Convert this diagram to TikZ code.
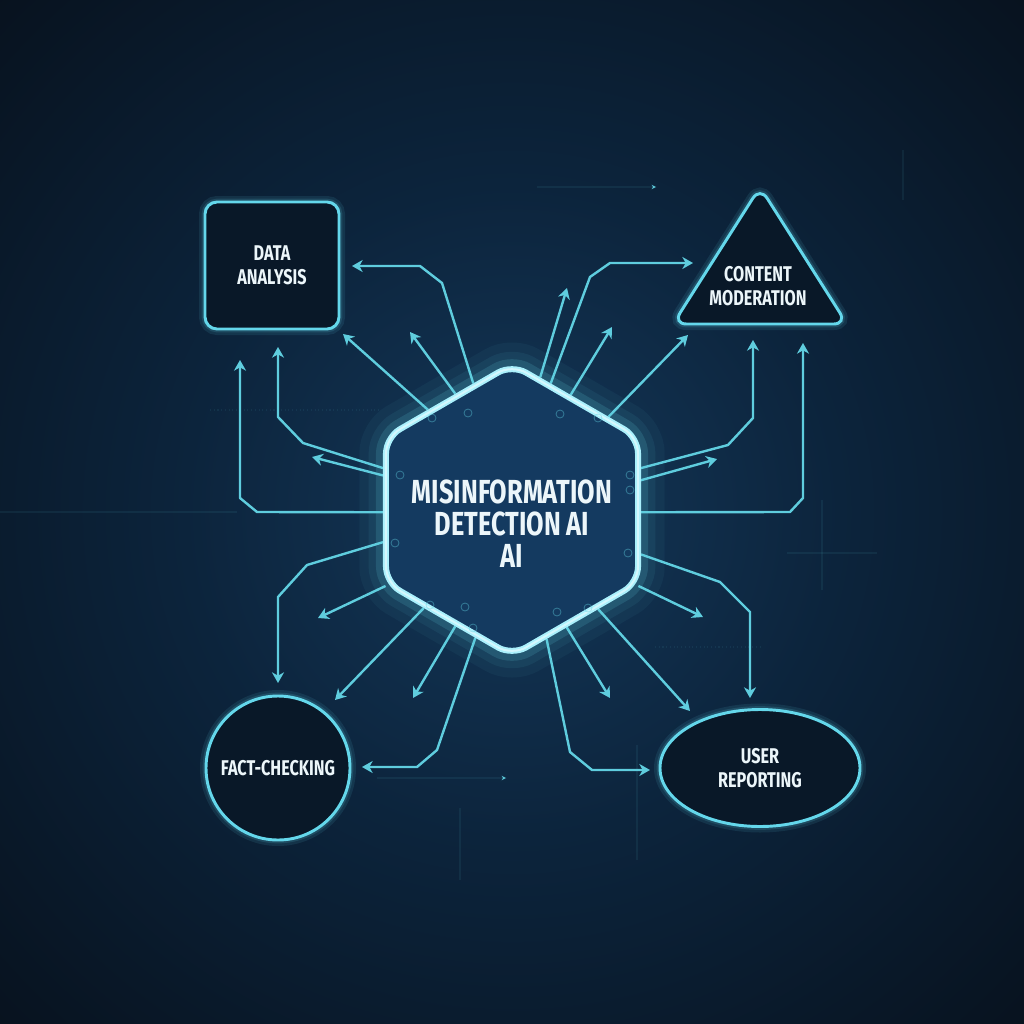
\documentclass[tikz,border=0pt]{standalone}
\usepackage{fontspec}
\newfontfamily\labelfont{Fira Sans}[FakeStretch=0.76]
\usetikzlibrary{arrows.meta,shapes.geometric}
\pgfdeclarelayer{background}
\pgfdeclarelayer{foreground}
\pgfsetlayers{background,main,foreground}

\definecolor{bgin}{RGB}{20,56,90}
\definecolor{bgmid}{RGB}{12,36,60}
\definecolor{bgout}{RGB}{7,16,27}
\definecolor{linec}{RGB}{95,205,222}
\definecolor{shapec}{RGB}{100,215,235}
\definecolor{hexc}{RGB}{170,240,252}
\definecolor{hexfill}{RGB}{20,58,96}
\definecolor{boxfill}{RGB}{9,24,40}
\definecolor{txt}{RGB}{236,246,250}
\pgfdeclareradialshading{bgshade}{\pgfpoint{0bp}{0bp}}{color(0bp)=(bgin); color(16bp)=(bgmid); color(38bp)=(bgout); color(50bp)=(bgout)}

\tikzset{
  flow/.style={draw=linec, line width=1.8pt, line join=round,
    -{Stealth[length=8pt,width=9pt,inset=2.5pt]}},
  faint/.style={draw=linec, draw opacity=0.08, line width=0.8pt},
  bubble/.style={draw=linec, draw opacity=0.45, line width=0.6pt},
  glowshape/.style={draw=shapec, line width=2.2pt, fill=boxfill,
    preaction={draw=shapec, line width=9pt, draw opacity=0.10},
    preaction={draw=shapec, line width=5pt, draw opacity=0.15}},
  label/.style={text=txt, align=center,
    font=\labelfont\bfseries\fontsize{16}{18}\selectfont},
  hexnode/.style={regular polygon, regular polygon sides=6, shape border rotate=30,
    minimum size=218.25pt, inner sep=0pt, rounded corners=12pt, fill=hexfill,
    draw=hexc, line width=4.5pt,
    preaction={draw=linec, line width=40pt, draw opacity=0.05},
    preaction={draw=linec, line width=26pt, draw opacity=0.08},
    preaction={draw=linec, line width=15pt, draw opacity=0.16},
    postaction={draw=white, line width=1.5pt, draw opacity=0.5}},
  coretext/.style={text=txt, align=center,
    font=\labelfont\bfseries\fontsize{25}{24}\selectfont}
}

\begin{document}
\begin{tikzpicture}[x=0.75pt,y=0.75pt,yscale=-1,xscale=1]
\useasboundingbox (0,0) rectangle (1024,1024);

\begin{pgfonlayer}{background}
\shade[shading=bgshade] (0,0) rectangle (1024,1024);
% faint grid traces
\draw[faint, -{Stealth[length=5pt,width=5pt]}] (537,187) -- (657,187);
\draw[faint, -{Stealth[length=5pt,width=5pt]}] (377,778) -- (507,778);
\draw[faint] (0,512) -- (237,512);
\draw[faint] (460,808) -- (460,880);
\draw[faint] (822,500) -- (822,590);
\draw[faint] (787,553) -- (877,553);
\draw[faint] (637,745) -- (637,860);
\draw[faint] (903,150) -- (903,200);
\draw[faint, dotted] (210,410) -- (380,410);
\draw[faint, dotted] (655,647) -- (760,647);
\end{pgfonlayer}

% Central hexagon
\begin{pgfonlayer}{foreground}
\node[hexnode] (core) at (512,510) {};
\node[coretext] (title) at (512,524) {MISINFORMATION\\DETECTION AI\\AI};
\foreach \px/\py in {468/413, 560/414, 432/418, 598/418, 400/475, 630/475,
    630/490, 395/543, 628/553, 430/605, 465/607, 557/612, 588/608, 473/628}
  \draw[bubble] (\px,\py) circle (3pt);
\end{pgfonlayer}

% Outer shapes
\node[glowshape, rounded corners=9pt, minimum width=100.5pt, minimum height=95.25pt,
  label] (analysis) at (272,265.5) {DATA\\ANALYSIS};
\draw[glowshape, rounded corners=10pt] (760,324) -- (673,324) -- (760,187) -- (847,324) -- cycle;
\node[label] (moderation) at (758,286) {CONTENT\\MODERATION};
\node[glowshape, circle, minimum size=108pt, inner sep=0pt, label] (factcheck)
  at (278,768) {FACT-CHECKING};
\node[glowshape, ellipse, minimum width=150pt, minimum height=87.75pt, inner sep=0pt,
  label] (reporting) at (760,768) {USER\\REPORTING};

% free arrow ends
\coordinate (da1) at (352,266);
\coordinate (da2) at (343,334);
\coordinate (da3) at (410,332);
\coordinate (da4) at (278,347);
\coordinate (da5) at (312,457);
\coordinate (da6) at (240,360);
\coordinate (cm1) at (567,288);
\coordinate (cm2) at (693,263);
\coordinate (cm3) at (612,327);
\coordinate (cm4) at (688,335);
\coordinate (cm5) at (753,340);
\coordinate (cm6) at (717,459);
\coordinate (cm7) at (803,343);
\coordinate (fc1) at (278,683);
\coordinate (fc2) at (318,618);
\coordinate (fc3) at (335,700);
\coordinate (fc4) at (413,698);
\coordinate (fc5) at (362,767);
\coordinate (ur1) at (750,698);
\coordinate (ur2) at (703,617);
\coordinate (ur3) at (690,711);
\coordinate (ur4) at (610,698);
\coordinate (ur5) at (650,770);

% to data analysis
\draw[flow] (core.107) -- (442,283) -- (420,266) -- (da1);
\draw[flow] (core.130) -- (da2);
\draw[flow] (core.116) -- (da3);
\draw[flow] (core.162) -- (303,443) -- (278,417) -- (da4);
\draw[flow] (core.165) -- (da5);
\draw[flow] (core.181) -- (257,512) -- (240,498) -- (da6);
% to content moderation
\draw[flow] (core.78) -- (cm1);
\draw[flow] (core.73) -- (590,277) -- (610,263) -- (cm2);
\draw[flow] (core.63) -- (cm3);
\draw[flow] (core.44) -- (cm4);
\draw[flow] (core.18) -- (728,445) -- (753,418) -- (cm5);
\draw[flow] (core.13) -- (cm6);
\draw[flow] (core.-1) -- (790,512) -- (803,498) -- (cm7);
% to fact-checking
\draw[flow] (core.194) -- (307,565) -- (278,597) -- (fc1);
\draw[flow] (core.211) -- (fc2);
\draw[flow] (core.228) -- (fc3);
\draw[flow] (core.244) -- (fc4);
\draw[flow] (core.254) -- (437,750) -- (417,767) -- (fc5);
% to user reporting
\draw[flow] (core.341) -- (720,582) -- (750,612) -- (ur1);
\draw[flow] (core.329) -- (ur2);
\draw[flow] (core.311) -- (ur3);
\draw[flow] (core.295) -- (ur4);
\draw[flow] (core.285) -- (570,752) -- (592,770) -- (ur5);

\end{tikzpicture}
\end{document}
